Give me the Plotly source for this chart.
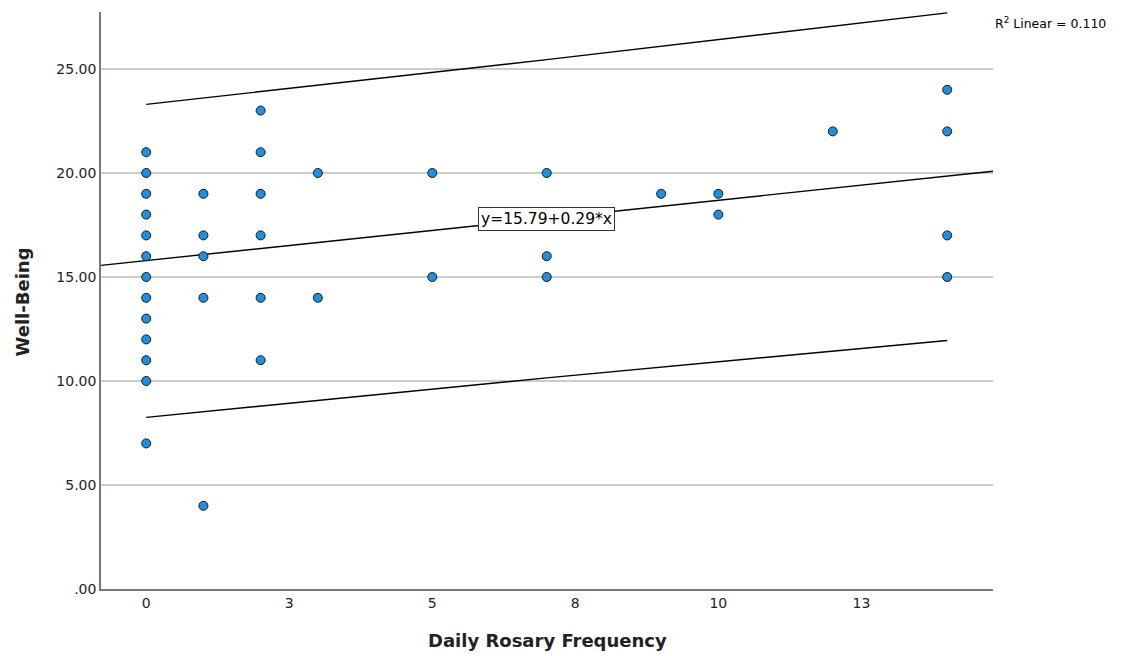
import plotly.graph_objects as go

# Daily rosary frequency vs. well-being scores
freq = [0]*13 + [1]*5 + [2]*6 + [3]*2 + [5]*2 + [7]*3 + [9] + [10]*2 + [12] + [14]*4
wellbeing = ([21, 20, 19, 18, 17, 16, 15, 14, 13, 12, 11, 10, 7]
             + [19, 17, 16, 14, 4]
             + [23, 21, 19, 17, 14, 11]
             + [20, 14]
             + [20, 15]
             + [20, 16, 15]
             + [19]
             + [19, 18]
             + [22]
             + [24, 22, 17, 15])

# Fit line coefficients and R-squared
intercept = 15.79
slope = 0.29
r_squared = 0.110

# 95% prediction interval bounds across the observed range
band_x = [0, 7, 14]
band_upper = [23.3, 25.45, 27.7]
band_lower = [8.25, 10.15, 11.95]

x_range = [-0.79, 14.8]
y_range = [0, 27.74]
x_tickvals = [0, 2.5, 5, 7.5, 10, 12.5]
x_ticktext = ["0", "3", "5", "8", "10", "13"]
y_tickvals = [0, 5, 10, 15, 20, 25]
y_ticktext = [".00", "5.00", "10.00", "15.00", "20.00", "25.00"]

x_title = "Daily Rosary Frequency"
y_title = "Well-Being"

font_family = "DejaVu Sans"

fig = go.Figure()

fig.add_trace(go.Scatter(
    x=band_x, y=band_upper, mode="lines",
    line=dict(color="black", width=1.4), hoverinfo="skip", showlegend=False))
fig.add_trace(go.Scatter(
    x=band_x, y=band_lower, mode="lines",
    line=dict(color="black", width=1.4), hoverinfo="skip", showlegend=False))

fit_x = x_range
fit_y = [intercept + slope * v for v in fit_x]
fig.add_trace(go.Scatter(
    x=fit_x, y=fit_y, mode="lines",
    line=dict(color="black", width=1.4), hoverinfo="skip", showlegend=False))

fig.add_trace(go.Scatter(
    x=freq, y=wellbeing, mode="markers",
    marker=dict(size=9, color="#1f8fe0", line=dict(color="#1a1a1a", width=1)),
    showlegend=False))

fig.add_annotation(
    x=7.0, y=17.8, xref="x", yref="y",
    text=f"y={intercept:.2f}+{slope:.2f}*x",
    showarrow=False, bgcolor="white", bordercolor="#333333", borderwidth=1,
    borderpad=2, font=dict(family=font_family, size=15.5, color="black"))

fig.add_annotation(
    x=1.0, y=1.0, xref="paper", yref="paper", xanchor="left", yanchor="top",
    xshift=0, yshift=-1,
    text=f"R<sup>2</sup> Linear = {r_squared:.3f}",
    showarrow=False, font=dict(family=font_family, size=12.5, color="black"))

# Axis titles placed as annotations for exact positioning
fig.add_annotation(
    x=0.5, y=0, xref="paper", yref="paper", xanchor="center", yanchor="middle",
    yshift=-51, text=f"<b>{x_title}</b>", showarrow=False,
    font=dict(family=font_family, size=18, color="#222222"))
fig.add_annotation(
    x=0, y=0.5, xref="paper", yref="paper", xanchor="center", yanchor="middle",
    xshift=-79, yshift=-2, textangle=-90, text=f"<b>{y_title}</b>", showarrow=False,
    font=dict(family=font_family, size=18, color="#222222"))

fig.update_layout(
    width=1132, height=656,
    margin=dict(l=101, r=139, t=12, b=67),
    paper_bgcolor="white", plot_bgcolor="white",
    font=dict(family=font_family, color="black"),
    xaxis=dict(
        range=x_range, tickvals=x_tickvals, ticktext=x_ticktext,
        showgrid=False, zeroline=False, showline=True, automargin=False,
        linecolor="#777777", linewidth=1.5, ticks="",
        tickfont=dict(size=14, color="#222222")),
    yaxis=dict(
        range=y_range, tickvals=y_tickvals, ticktext=y_ticktext,
        showgrid=True, gridcolor="#cccccc", gridwidth=1.5,
        zeroline=False, showline=True, automargin=False,
        linecolor="#777777", linewidth=1.5, ticks="",
        tickfont=dict(size=14, color="#222222")),
)

fig.write_html("out.html")
